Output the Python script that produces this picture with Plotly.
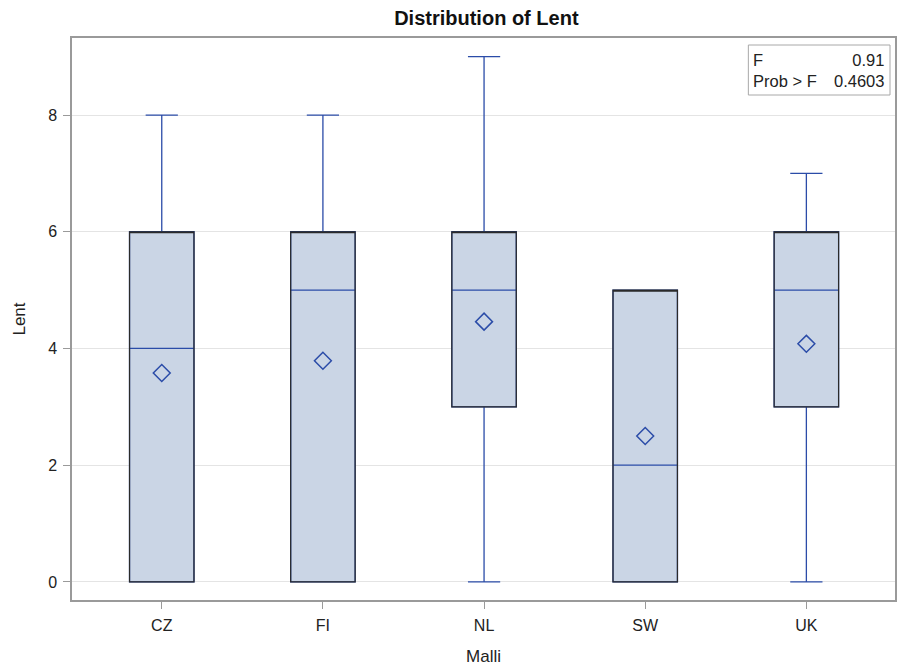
import plotly.graph_objects as go

# Box-plot summary of Lent by Malli
categories = ["CZ", "FI", "NL", "SW", "UK"]
q1_vals = [0, 0, 3, 0, 3]
median_vals = [4, 5, 5, 2, 5]
q3_vals = [6, 6, 6, 5, 6]
lower_fence = [0, 0, 0, 0, 0]
upper_fence = [8, 8, 9, 5, 7]
mean_vals = [3.58, 3.79, 4.46, 2.5, 4.08]
y_ticks = [0, 2, 4, 6, 8]

f_value = "0.91"
prob_value = "0.4603"

BLUE = "#2B4CA8"
FILL = "#CAD5E5"
FONT = "Liberation Sans, Arial, sans-serif"

fig = go.Figure()

# Full box with whiskers, caps and median in blue
fig.add_trace(go.Box(
    x=categories, q1=q1_vals, median=median_vals, q3=q3_vals,
    lowerfence=lower_fence, upperfence=upper_fence,
    boxpoints=False, width=0.4, whiskerwidth=0.5,
    fillcolor=FILL, line=dict(color=BLUE, width=1.3),
    showlegend=False, hoverinfo="skip",
))

# Dark outline of the interquartile box drawn on top
fig.add_trace(go.Box(
    x=categories, q1=q1_vals, median=q3_vals, q3=q3_vals,
    lowerfence=q1_vals, upperfence=q3_vals,
    boxpoints=False, width=0.4, whiskerwidth=0,
    fillcolor="rgba(0,0,0,0)", line=dict(color="#2A2A2A", width=1.2),
    showlegend=False, hoverinfo="skip",
))

# Mean markers
fig.add_trace(go.Scatter(
    x=categories, y=mean_vals, mode="markers",
    marker=dict(symbol="diamond-open", size=13, color=BLUE,
                line=dict(color=BLUE, width=1.5)),
    showlegend=False, hoverinfo="skip",
))

axis_common = dict(
    showline=True, linecolor="#9A9A9A", linewidth=1.5, mirror=True,
    ticks="outside", ticklen=7, tickcolor="#9A9A9A", tickwidth=1,
    tickfont=dict(family=FONT, size=16, color="#222222"),
    title_font=dict(family=FONT, size=17, color="#222222"),
    zeroline=False,
)

fig.update_layout(
    width=899, height=666,
    margin=dict(l=72, r=2, t=38, b=66),
    paper_bgcolor="white", plot_bgcolor="white",
    boxmode="overlay",
    title=dict(text="<b>Distribution of Lent</b>", x=0.541, xanchor="center",
               y=1 - 18 / 666, yanchor="middle",
               font=dict(family=FONT, size=20, color="#111111")),
    xaxis=dict(
        type="category", categoryorder="array", categoryarray=categories,
        range=[-0.557, 4.55], showgrid=False, ticklabelstandoff=3,
        title=dict(text="Malli", standoff=17), **axis_common,
    ),
    yaxis=dict(
        range=[-0.31, 9.32], tickvals=y_ticks, ticklabelstandoff=3,
        showgrid=True, gridcolor="#E4E4E4", gridwidth=1,
        title=dict(text="Lent", standoff=18), **axis_common,
    ),
    shapes=[dict(
        type="rect", xref="paper", yref="paper",
        x0=(750 - 72) / 825, x1=(892 - 72) / 825,
        y0=(600 - 95) / 562, y1=(600 - 45) / 562,
        line=dict(color="#A8A8A8", width=1), fillcolor="white",
    )],
    annotations=[
        dict(xref="paper", yref="paper", x=(753 - 72) / 825, y=(600 - 70) / 562,
             xanchor="left", yanchor="middle", align="left", showarrow=False,
             text="F<br>Prob > F",
             font=dict(family=FONT, size=16.5, color="#222222")),
        dict(xref="paper", yref="paper", x=(888 - 72) / 825, y=(600 - 70) / 562,
             xanchor="right", yanchor="middle", align="right", showarrow=False,
             text=f"{f_value}<br>{prob_value}",
             font=dict(family=FONT, size=16.5, color="#222222")),
    ],
)

fig.write_html("out.html")
